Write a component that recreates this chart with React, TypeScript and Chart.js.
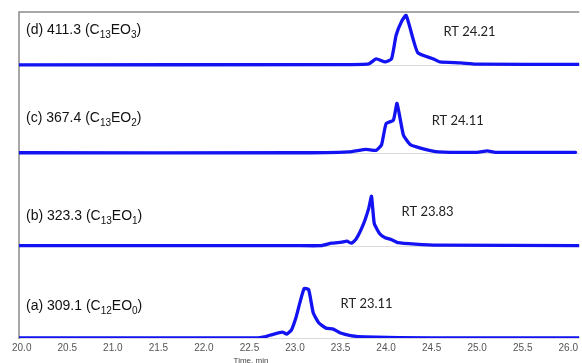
import React, { useEffect, useRef } from "react";
import { Chart, registerables } from "chart.js";

Chart.register(...registerables);

// ---- data ----
const X_TICKS = [20.0, 20.5, 21.0, 21.5, 22.0, 22.5, 23.0, 23.5, 24.0, 24.5, 25.0, 25.5, 26.0];

const LETTERS = ["a", "b", "c", "d"];
const MZ = ["309.1", "323.3", "367.4", "411.3"];
const CARBON = ["12", "13", "13", "13"];
const EO = ["0", "1", "2", "3"];
const RT = ["23.11", "23.83", "24.11", "24.21"];

const TIME_A = [19.97, 22.0, 22.57, 22.68, 22.75, 22.86, 22.91, 22.96, 23.01, 23.05, 23.1, 23.15, 23.2, 23.26, 23.34, 23.42, 23.5, 23.61, 23.77, 24.5, 26.12];
const INT_A = [0, 0, 0, 3, 7, 12, 8, 16, 41, 69, 100, 98, 51, 31, 20, 18, 10, 5, 2, 0, 0];

const TIME_B = [19.97, 23.0, 23.29, 23.4, 23.51, 23.57, 23.62, 23.67, 23.75, 23.81, 23.84, 23.87, 23.93, 23.99, 24.06, 24.13, 24.32, 24.57, 26.12];
const INT_B = [0, 0, 0, 5, 7, 9, 5, 13, 43, 76, 100, 45, 24, 16, 12, 6, 3, 1, 0];

const TIME_C = [19.97, 23.0, 23.59, 23.78, 23.89, 23.95, 24.0, 24.08, 24.12, 24.19, 24.27, 24.43, 24.57, 25.0, 25.11, 25.2, 26.08];
const INT_C = [0, 0, 2, 7, 5, 16, 59, 66, 100, 36, 16, 7, 2, 1, 4, 1, 1];

const TIME_D = [19.97, 23.5, 23.81, 23.89, 23.99, 24.06, 24.11, 24.17, 24.22, 24.3, 24.35, 24.52, 24.59, 24.82, 24.98, 26.12];
const INT_D = [0, 0.5, 2, 12, 6, 12, 60, 88, 100, 50, 24, 12, 6, 4, 1.5, 1];

const TIMES = [TIME_A, TIME_B, TIME_C, TIME_D];
const INTENSITIES = [INT_A, INT_B, INT_C, INT_D];

// ---- layout (not data) ----
const OFFSETS = [0, 187, 375, 553];
const LABEL_DY = [28, 25.5, 31, 31];
const RT_X = [23.5, 24.17, 24.5, 24.63];
const RT_DY = [30, 30, 28, 29];
const BLUE = "#1212f2";

const annotPlugin = {
  id: "annot",
  beforeDatasetsDraw(chart: any) {
    const { ctx, chartArea, scales } = chart;
    const xs = scales.x;
    const ys = scales.y;
    ctx.save();
    // faint baseline lines, with minor ticks only near the peak region
    ctx.strokeStyle = "#dadada";
    ctx.lineWidth = 1;
    OFFSETS.forEach((off) => {
      const y = Math.round(ys.getPixelForValue(off)) + 0.5;
      ctx.beginPath();
      ctx.moveTo(chartArea.left, y);
      ctx.lineTo(chartArea.right, y);
      ctx.stroke();
    });
    // frame
    ctx.strokeStyle = "#8a8a8a";
    ctx.lineWidth = 1.5;
    ctx.beginPath();
    ctx.moveTo(chartArea.left, chartArea.bottom + 1);
    ctx.lineTo(chartArea.left, chartArea.top);
    ctx.lineTo(chartArea.right, chartArea.top);
    ctx.stroke();
    ctx.restore();
  },
  afterDatasetsDraw(chart: any) {
    const { ctx, scales } = chart;
    const xs = scales.x;
    const ys = scales.y;
    ctx.save();
    ctx.textBaseline = "alphabetic";
    ctx.textAlign = "left";
    for (let i = 0; i < 4; i++) {
      const base = ys.getPixelForValue(OFFSETS[i]);
      let x = 26;
      const y = base - LABEL_DY[i];
      const parts: [string, boolean][] = [
        [`(${LETTERS[i]}) ${MZ[i]} (C`, false],
        [CARBON[i], true],
        ["EO", false],
        [EO[i], true],
        [")", false],
      ];
      ctx.fillStyle = "#111";
      parts.forEach(([t, sub]) => {
        ctx.font = sub ? "10px 'Liberation Sans', Arial, sans-serif" : "14px 'Liberation Sans', Arial, sans-serif";
        ctx.fillText(t, x, sub ? y + 4 : y);
        x += ctx.measureText(t).width;
      });
      ctx.font = "13px Lato, 'Open Sans', sans-serif";
      ctx.fillStyle = "#222";
      ctx.fillText(`RT ${RT[i]}`, xs.getPixelForValue(RT_X[i]), base - RT_DY[i]);
    }
    ctx.font = "8px 'Liberation Sans', Arial, sans-serif";
    ctx.fillStyle = "#444";
    ctx.textAlign = "center";
    ctx.textBaseline = "top";
    ctx.fillText("Time, min", 251, 357);
    ctx.restore();
  },
};

export default function App() {
  const ref = useRef<HTMLCanvasElement>(null);
  useEffect(() => {
    if (!ref.current) return;
    const datasets = TIMES.map((ts, i) => ({
      data: ts.map((t, j) => ({ x: t, y: INTENSITIES[i][j] + OFFSETS[i] })),
      borderColor: BLUE,
      backgroundColor: BLUE,
      borderWidth: 3.3,
      pointRadius: 0,
      tension: 0.15,
      fill: false,
      borderJoinStyle: "round" as const,
      borderCapStyle: "round" as const,
    }));
    const chart = new Chart(ref.current, {
      type: "line",
      data: { datasets },
      plugins: [annotPlugin],
      options: {
        animation: false,
        responsive: false,
        maintainAspectRatio: false,
        layout: { padding: { left: 19, top: 12, right: 0, bottom: 5 } },
        plugins: { legend: { display: false }, tooltip: { enabled: false } },
        scales: {
          x: {
            type: "linear",
            min: 19.97,
            max: 26.12,
            grid: { display: false, drawTicks: false },
            border: { display: false },
            ticks: {
              font: { family: "'Liberation Sans', Arial, sans-serif", size: 10 },
              color: "#555",
              padding: 4,
              autoSkip: false,
              maxRotation: 0,
              callback: (v: any) => Number(v).toFixed(1),
            },
            afterBuildTicks: (s: any) => {
              s.ticks = X_TICKS.map((v) => ({ value: v }));
            },
          },
          y: { display: false, min: 0, max: 660 },
        },
      },
    });
    return () => chart.destroy();
  }, []);
  return (
    <div style={{ position: "fixed", left: 0, top: 0, width: 582, height: 363, background: "#fff" }}>
      <canvas ref={ref} width={582} height={363} style={{ display: "block" }} />
    </div>
  );
}
